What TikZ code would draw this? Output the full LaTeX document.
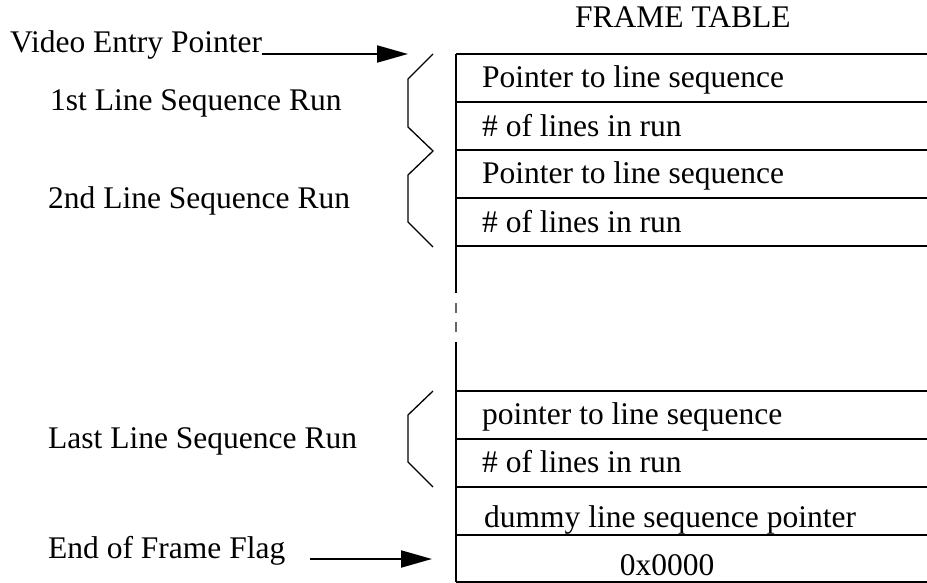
\documentclass[tikz,border=0pt]{standalone}
\usepackage{fontspec}
\setmainfont{Liberation Serif}
\usetikzlibrary{arrows.meta}
\begin{document}
\begin{tikzpicture}[x=1pt,y=-1pt,
  lbl/.style={anchor=base west,inner sep=0pt,font=\fontsize{31.5}{36}\selectfont},
  cbl/.style={anchor=base,inner sep=0pt,font=\fontsize{31.5}{36}\selectfont},
  rowline/.style={line width=2pt},
  bracebar/.style={line width=1.3pt,line join=miter},
  ptr/.style={line width=2pt,-{Triangle[length=31pt,width=17pt]}}]
\useasboundingbox (0,0) rectangle (927,583);
% table
\foreach \yy in {54,102,150,198,246,391,439,487,535,582}
  \draw[rowline] (456,\yy) -- (927,\yy);
\draw[rowline] (456,54) -- (456,293);
\draw[line width=1.5pt,black!60] (456,303) -- (456,313);
\draw[line width=1.5pt,black!60] (456,322) -- (456,332);
\draw[rowline] (456,342) -- (456,582);
% titles and labels
\node[lbl] (title) at (575,28) {FRAME TABLE};
\node[lbl] (vep) at (10,53) {Video Entry Pointer};
\node[lbl] (run1) at (50,111) {1st Line Sequence Run};
\node[lbl] (run2) at (48,208) {2nd Line Sequence Run};
\node[lbl] (runL) at (48,448) {Last Line Sequence Run};
\node[lbl] (eff) at (48,558) {End of Frame Flag};
% row texts
\node[lbl] (r1) at (482,88) {Pointer to line sequence};
\node[lbl] (r2) at (482,136.5) {\# of lines in run};
\node[lbl] (r3) at (482,184) {Pointer to line sequence};
\node[lbl] (r4) at (482,232.5) {\# of lines in run};
\node[lbl] (r5) at (482,424) {pointer to line sequence};
\node[lbl] (r6) at (482,472) {\# of lines in run};
\node[lbl] (r7) at (484,527) {dummy line sequence pointer};
\node[cbl] (r8) at (667,575) {0x0000};
% brackets
\draw[bracebar] (433,54) -- (408,79) -- (408,127) -- (433,151) -- (408,175) -- (408,222) -- (433,247);
\draw[bracebar] (433,391) -- (408,415) -- (408,462) -- (433,487);
% arrows
\coordinate (vepTip) at (408,54);
\coordinate (effTip) at (432,559);
\draw[ptr] (vep.base east |- vepTip) -- (vepTip);
\draw[ptr] ([xshift=25pt]eff.base east |- effTip) -- (effTip);
\end{tikzpicture}
\end{document}
